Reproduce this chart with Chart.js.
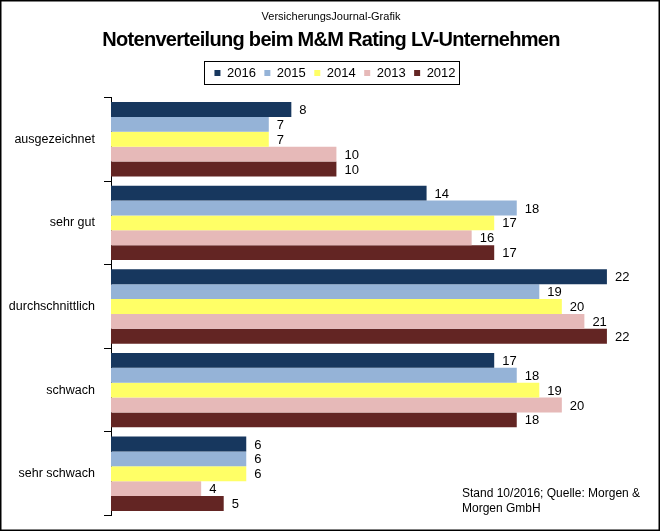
<!DOCTYPE html>
<html>
<head>
<meta charset="utf-8">
<script src="https://cdn.jsdelivr.net/npm/chart.js@4.4.0/dist/chart.umd.min.js"></script>
<style>
  html, body { margin: 0; padding: 0; background: #fff; }
  #wrap { width: 661px; height: 532px; position: relative; }
</style>
</head>
<body>
<div id="wrap"><canvas id="myChart"></canvas></div>
<script>
const categories = ['ausgezeichnet', 'sehr gut', 'durchschnittlich', 'schwach', 'sehr schwach'];
const years = ['2016', '2015', '2014', '2013', '2012'];
const values2016 = [8, 14, 22, 17, 6];
const values2015 = [7, 18, 19, 18, 6];
const values2014 = [7, 17, 20, 19, 6];
const values2013 = [10, 16, 21, 20, 4];
const values2012 = [10, 17, 22, 18, 5];
const colors = ['#17375E', '#95B3D7', '#FFFF66', '#E6B9B8', '#632523'];

const FONT = 'Arial, "Liberation Sans", sans-serif';

const build_dataset = (label, data, color) => {
    return {
        label: label,
        data: data,
        backgroundColor: color,
        borderWidth: 0,
        categoryPercentage: 0.89,
        barPercentage: 1.0
    }
}

// labels at bar ends, titles, legend frame, footnote, outer frame
const extras = {
    id: 'extras',
    afterLayout(chart) {
        // legend sits a bit right of the centre in the original
        chart.legend.left += 9;
        chart.legend.right += 9;
    },
    afterDatasetsDraw(chart) {
        const ctx = chart.ctx;
        ctx.save();
        ctx.font = '13px ' + FONT;
        ctx.fillStyle = '#000';
        ctx.textAlign = 'left';
        ctx.textBaseline = 'middle';
        chart.data.datasets.forEach((ds, i) => {
            chart.getDatasetMeta(i).data.forEach((bar, j) => {
                ctx.fillText(String(ds.data[j]), bar.x + 8, bar.y + 1);
            });
        });
        ctx.restore();
    },
    afterDraw(chart) {
        const ctx = chart.ctx;
        ctx.save();
        ctx.fillStyle = '#000';
        ctx.textAlign = 'center';
        ctx.textBaseline = 'middle';
        ctx.font = '11px ' + FONT;
        ctx.fillText('VersicherungsJournal-Grafik', 331, 17);
        ctx.font = 'bold 20px ' + FONT;
        ctx.letterSpacing = '-0.7px';
        ctx.fillText('Notenverteilung beim M&M Rating LV-Unternehmen', 331, 40);
        ctx.letterSpacing = '0px';

        ctx.textAlign = 'left';
        ctx.font = '12px ' + FONT;
        ctx.fillText('Stand 10/2016; Quelle: Morgen &', 462, 494);
        ctx.fillText('Morgen GmbH', 462, 509);

        ctx.strokeStyle = '#000';
        ctx.lineWidth = 1;
        ctx.strokeRect(204.5, 61.5, 255, 23);

        ctx.lineWidth = 1.5;
        ctx.strokeRect(0.75, 0.75, 658.5, 529.5);
        ctx.restore();
    }
};

const data = {
    labels: categories,
    datasets: [
        build_dataset(years[0], values2016, colors[0]),
        build_dataset(years[1], values2015, colors[1]),
        build_dataset(years[2], values2014, colors[2]),
        build_dataset(years[3], values2013, colors[3]),
        build_dataset(years[4], values2012, colors[4])
    ]
};

const config = {
    type: 'bar',
    data,
    options: {
        indexAxis: 'y',
        responsive: true,
        maintainAspectRatio: false,
        animation: false,
        layout: { padding: { top: 58, left: 0, right: 9, bottom: 7 } },
        plugins: {
            title: { display: false },
            tooltip: { enabled: false },
            legend: {
                display: true,
                position: 'top',
                labels: {
                    boxWidth: 6,
                    boxHeight: 6,
                    padding: 8.5,
                    color: '#000',
                    font: { family: FONT, size: 13 }
                }
            }
        },
        scales: {
            x: {
                position: 'top',
                min: 0,
                max: 24,
                afterFit: (scale) => { scale.height = 8; },
                grid: { display: false },
                border: { display: false },
                ticks: { display: false }
            },
            y: {
                afterFit: (scale) => { scale.width = 111; },
                grid: {
                    display: true,
                    offset: true,
                    drawOnChartArea: false,
                    drawTicks: true,
                    tickLength: 7,
                    color: '#000'
                },
                border: { display: true, color: '#000', width: 1 },
                ticks: {
                    padding: 9,
                    color: '#000',
                    font: { family: FONT, size: 12.5 }
                }
            }
        }
    },
    plugins: [extras]
};

new Chart(document.getElementById('myChart'), config);
</script>
</body>
</html>
